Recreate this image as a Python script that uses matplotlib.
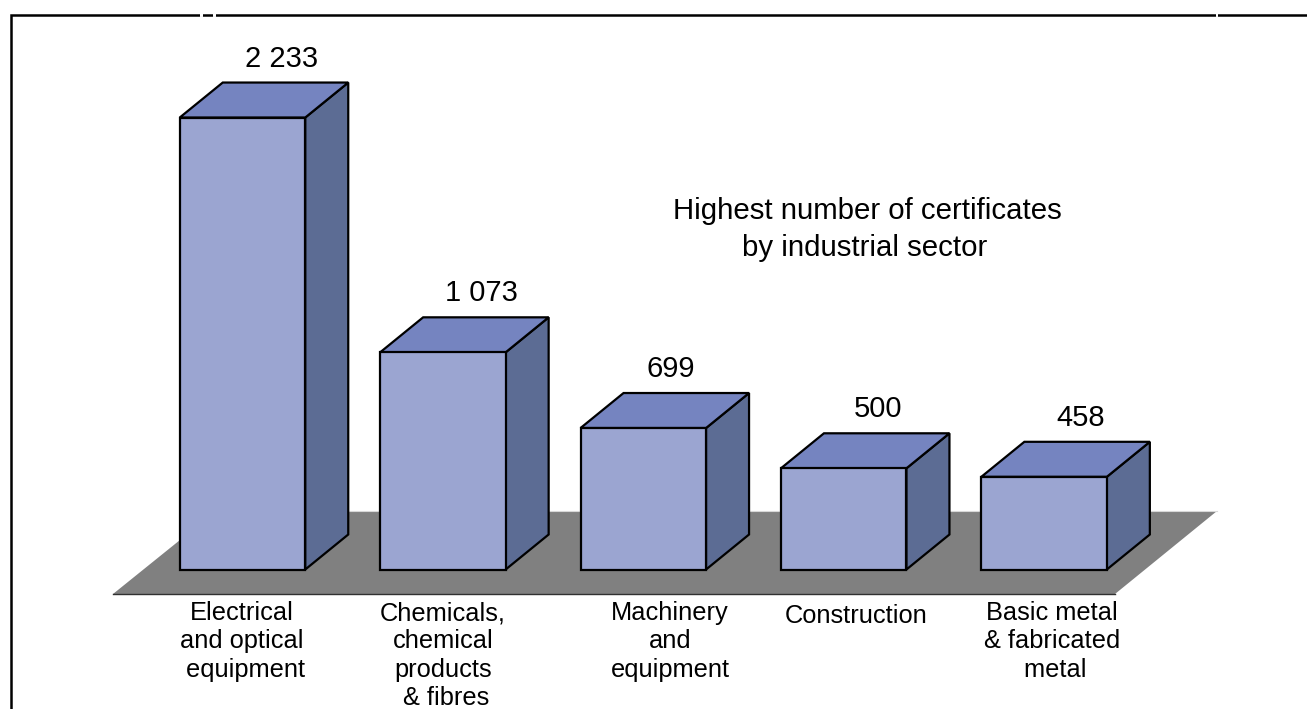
import matplotlib
matplotlib.use("Agg")
import matplotlib.pyplot as plt
from matplotlib.patches import Polygon

# values
sectors = ["Electrical\nand optical\n equipment",
           "Chemicals,\nchemical\nproducts\n & fibres",
           "Machinery\nand\nequipment",
           "Construction",
           "Basic metal\n& fabricated\n metal"]
certificates = [2233, 1073, 699, 500, 458]
value_labels = ["2 233", "1 073", "699", "500", "458"]
label_centers = [242, 443, 670, 856, 1052]
label_tops = [601, 601, 601, 604, 601]
value_centers = [282, 481, 671, 878, 1081]

W, H = 1307, 709
FRONT = "#9BA5D1"
TOP = "#7584C0"
SIDE = "#5C6C94"
FLOOR = "#808080"

plt.rcParams["font.family"] = ["Liberation Sans", "DejaVu Sans"]

fig = plt.figure(figsize=(W / 100, H / 100), dpi=100)
ax = fig.add_axes([0, 0, 1, 1])
ax.axis("off")

# category axis: bars 200.4 px apart, value axis: 0.2024 px per certificate
px_x = 200.4
px_y = 0.2024
x0_px = 242.5
y0_px = 569.5
ax.set_xlim(-x0_px / px_x, (W - x0_px) / px_x)
ax.set_ylim(-(H - y0_px) / px_y, y0_px / px_y)

bar_w = 125.5 / px_x
dx = 43 / px_x
dy = 35 / px_y


def px(x, y):
    # pixel position (from top left) to data
    return (x - x0_px) / px_x, (y0_px - y) / px_y


# floor
floor = [px(113, 594), px(1115, 594), px(1217, 511), px(216, 511)]
ax.add_patch(Polygon(floor, closed=True, fc=FLOOR, ec="none", zorder=1))
ax.plot(*zip(px(113, 594), px(1115, 594)), color="#303030", lw=1.0, zorder=1)
ax.plot(*zip(px(216, 511), px(1217, 511)), color="#d8d8d8", lw=0.8, zorder=1)

# bars
for i, v in enumerate(certificates):
    l, r = i - bar_w / 2, i + bar_w / 2
    style = dict(closed=True, ec="black", lw=1.6, joinstyle="miter", zorder=2)
    ax.add_patch(Polygon([(r, 0), (r + dx, dy), (r + dx, v + dy), (r, v)], fc=SIDE, **style))
    ax.add_patch(Polygon([(l, v), (r, v), (r + dx, v + dy), (l + dx, v + dy)], fc=TOP, **style))
    ax.add_patch(Polygon([(l, 0), (r, 0), (r, v), (l, v)], fc=FRONT, **style))
    vx = px(value_centers[i], 0)[0]
    ax.text(vx, v + dy + 10 / px_y, value_labels[i], ha="center", va="bottom", fontsize=21,
            color="black", zorder=3)
    lx, ly = px(label_centers[i], label_tops[i])
    ax.text(lx, ly, sectors[i], ha="center", va="top", fontsize=18.3, linespacing=1.23,
            color="black", zorder=3)

# note inside the plot
nx, ny = px(867, 197)
ax.text(nx, ny, "Highest number of certificates", ha="center", va="top", fontsize=21.2, color="black")
nx, ny = px(865, 234)
ax.text(nx, ny, "by industrial sector", ha="center", va="top", fontsize=21.2, color="black")

# outer frame, open at the right and bottom
ax.plot(*zip(px(10.5, H), px(10.5, 15), px(W, 15)), color="black", lw=1.8, zorder=4,
        solid_joinstyle="miter")
# small white gaps cut through the top line
for a, b in [(200, 203), (213, 216), (1216, 1218)]:
    ax.plot(*zip(px(a, 15), px(b, 15)), color="white", lw=2.8, zorder=5, solid_capstyle="butt")

fig.savefig("out.png", dpi=100, facecolor="white")
plt.close(fig)
